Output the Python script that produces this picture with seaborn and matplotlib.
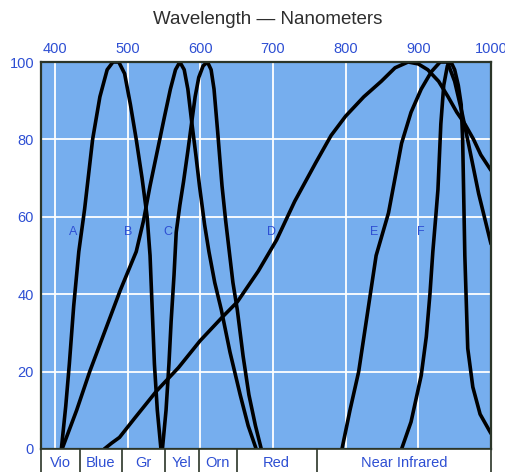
import matplotlib
matplotlib.use("Agg")
import matplotlib.pyplot as plt
import seaborn as sns
import pandas as pd

# filter response curves: (wavelength nm, relative response %)
curve_a = [(409, 0), (415, 11), (420, 22), (426, 37), (433, 51), (441, 62), (452, 80),
           (462, 91), (472, 98), (480, 100), (488, 100), (496, 97), (504, 89), (512, 80),
           (520, 70), (527, 60), (531, 50), (534, 36), (537, 22), (541, 10), (546, 0)]
curve_b = [(410, 0), (430, 10), (448, 20), (470, 31), (490, 41), (512, 51), (522, 59),
           (531, 68), (541, 77), (551, 86), (559, 93), (566, 98), (572, 100), (578, 98),
           (583, 93), (588, 85), (594, 76), (599, 68), (606, 58), (612, 51), (620, 43),
           (629, 36), (641, 25), (655, 14), (666, 6), (677, 0)]
curve_c = [(548, 0), (553, 10), (557, 22), (560, 33), (564, 45), (567, 56), (572, 63),
           (577, 69), (583, 77), (588, 84), (593, 91), (598, 96), (604, 99), (610, 100),
           (615, 98), (619, 93), (624, 82), (630, 68), (635, 59), (640, 51), (645, 43),
           (651, 36), (659, 24), (667, 14), (676, 6), (684, 0)]
curve_d = [(468, 0), (478, 1.5), (489, 3), (510, 8), (540, 15), (570, 21), (600, 28),
           (630, 34), (651, 38), (680, 46), (705, 54), (730, 64), (759, 74), (780, 81),
           (800, 86), (825, 91), (849, 95), (868, 98.5), (886, 100), (900, 99.5), (913, 98),
           (928, 95), (941, 91), (953, 87), (964, 84), (976, 80), (986, 76), (1000, 72)]
curve_e = [(795, 0), (806, 10), (818, 20), (830, 35), (842, 50), (859, 61), (868, 70),
           (877, 79), (890, 87), (904, 93), (918, 97.5), (930, 100), (940, 100), (950, 95),
           (960, 87), (970, 78), (983, 66), (1000, 53)]
curve_f = [(877, 0), (890, 7), (904, 19), (911, 29), (916, 40), (920, 51), (924, 60),
           (927, 67), (931, 84), (935, 94), (940, 99), (945, 100), (950, 98), (955, 94),
           (959, 89), (961, 80), (962, 70), (963, 60), (964, 50), (966, 38), (968, 26),
           (975, 16), (985, 9), (1000, 4)]

curves = {"A": curve_a, "B": curve_b, "C": curve_c, "D": curve_d, "E": curve_e, "F": curve_f}
label_x = {"A": 425, "B": 501, "C": 555, "D": 698, "E": 839, "F": 904}
label_y = 56

bands = ["Vio", "Blue", "Gr", "Yel", "Orn", "Red", "Near Infrared"]
band_edges = [381, 435, 492, 552, 598, 650, 760, 1000]

xticks = [400, 500, 600, 700, 800, 900, 1000]
yticks = [0, 20, 40, 60, 80, 100]

rows = []
for name, pts in curves.items():
    for i, (nm, pct) in enumerate(pts):
        rows.append({"filter": name, "order": i, "nm": nm, "pct": pct})
df = pd.DataFrame(rows)

sns.set_style("white")
plt.rcParams["font.family"] = ["Liberation Sans", "DejaVu Sans"]

blue_txt = "#2e4fd3"
bg = "#76aeee"
edge = "#2b3528"

fig = plt.figure(figsize=(5.06, 4.72), dpi=100)
ax = fig.add_axes([41 / 506, 23 / 472, 450 / 506, 387 / 472])
ax.set_facecolor(bg)

sns.lineplot(data=df, x="nm", y="pct", units="filter", estimator=None, sort=False,
             color="black", linewidth=2.6, ax=ax, legend=False)

for name in curves:
    ax.text(label_x[name], label_y, name, color=blue_txt, fontsize=9,
            ha="center", va="center")

ax.set_xlim(band_edges[0], band_edges[-1])
ax.set_ylim(0, 100)
ax.set_xticks(xticks)
ax.set_yticks(yticks)
ax.xaxis.tick_top()
ax.xaxis.set_label_position("top")
ax.tick_params(axis="both", length=0, labelsize=10.5, colors=blue_txt)
ax.tick_params(axis="x", pad=4)
ax.tick_params(axis="y", pad=5)
ax.grid(True, color="white", linewidth=1.3)
ax.set_axisbelow(True)
ax.set_xlabel("")
ax.set_ylabel("")
for s in ax.spines.values():
    s.set_color(edge)
    s.set_linewidth(1.6)

fig.text(268 / 506, 1 - 19 / 472, "Wavelength \u2014 Nanometers", ha="center",
         va="center", fontsize=13.5, color="#2e2e2e")

# colour band strip under the plot
bax = fig.add_axes([41 / 506, -0.02, 450 / 506, 23 / 472 + 0.02])
bax.set_facecolor("white")
bax.set_xlim(band_edges[0], band_edges[-1])
bax.set_ylim(0, 1)
bax.set_xticks([])
bax.set_yticks([])
for x in band_edges[1:-1]:
    bax.axvline(x, color=edge, linewidth=1.2)
for i, name in enumerate(bands):
    mid = (band_edges[i] + band_edges[i + 1]) / 2
    bax.text(mid, 0.56, name, color=blue_txt, fontsize=10.5, ha="center", va="center")
for s in bax.spines.values():
    s.set_color(edge)
    s.set_linewidth(1.2)

fig.savefig("out.png", dpi=100)
